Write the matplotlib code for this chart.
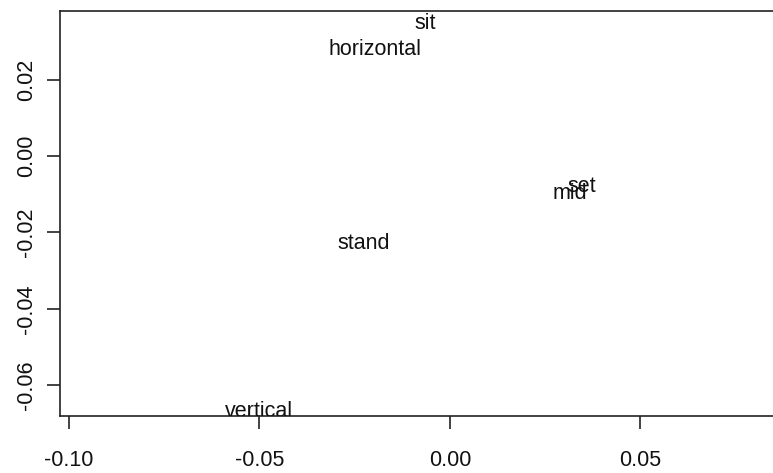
import matplotlib
matplotlib.use("Agg")
import matplotlib.pyplot as plt

plt.rcParams["font.family"] = ["Liberation Sans", "DejaVu Sans"]
plt.rcParams["axes.unicode_minus"] = False

# label positions (first two dimensions)
labels = ["sit", "horizontal", "set", "mid", "stand", "vertical"]
dim1 = [-0.0065, -0.0197, 0.0346, 0.0314, -0.0225, -0.0502]
dim2 = [0.0347, 0.0279, -0.0079, -0.0098, -0.0229, -0.0668]

x_ticks = [-0.10, -0.05, 0.00, 0.05]
y_ticks = [-0.06, -0.04, -0.02, 0.00, 0.02]

fig = plt.figure(figsize=(7.73, 4.73), dpi=100)
ax = fig.add_axes([60 / 773, 57 / 473, 716 / 773, 404.5 / 473])

for lab, x, y in zip(labels, dim1, dim2):
    ax.text(x, y, lab, ha="center", va="center", fontsize=15.5, color="#111111", clip_on=True)

ax.set_xlim(-0.1023, 0.0856)
ax.set_ylim(-0.0680, 0.0378)
ax.set_xticks(x_ticks)
ax.set_xticklabels([f"{t:.2f}" for t in x_ticks])
ax.set_yticks(y_ticks)
ax.set_yticklabels([f"{t:.2f}" for t in y_ticks], rotation=90, va="center")

for s in ax.spines.values():
    s.set_linewidth(1.2)
    s.set_color("#222222")
ax.tick_params(length=9.4, width=1.2, color="#222222", labelsize=15.5, labelcolor="#111111")
ax.tick_params(axis="x", pad=15)
ax.tick_params(axis="y", pad=7)

fig.savefig("out.png", dpi=100)
